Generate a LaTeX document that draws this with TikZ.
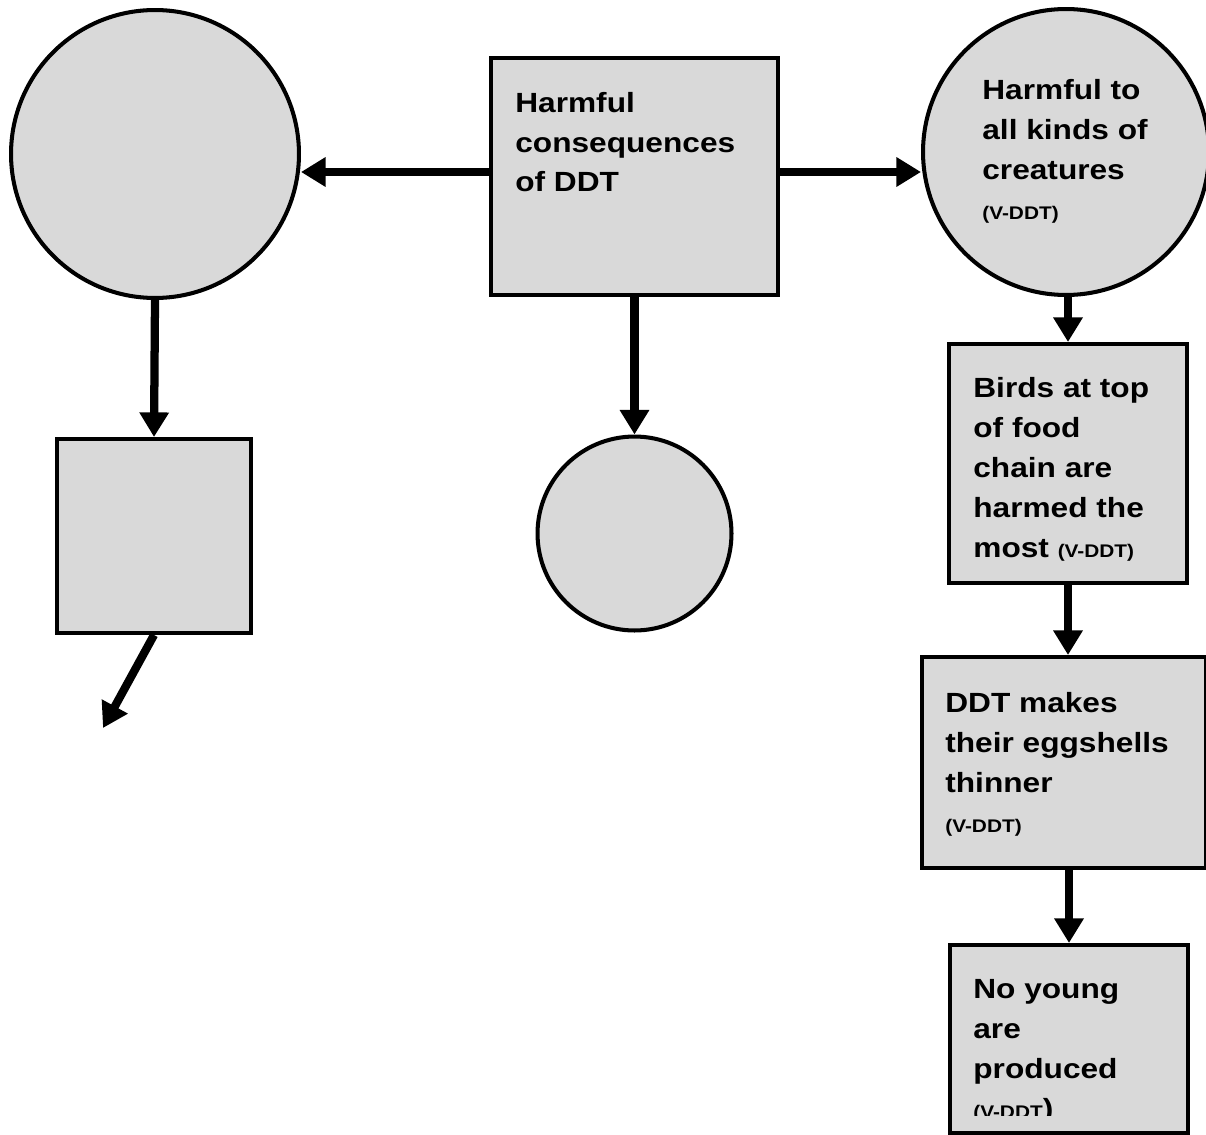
\documentclass[tikz,border=0pt]{standalone}
\usepackage{fontspec}
\setmainfont{Liberation Sans}
\newfontfamily\ddtfont[FakeStretch=1.14]{Liberation Sans}
\usepackage{tikz}
\usetikzlibrary{arrows.meta, positioning, calc}
\definecolor{boxgray}{RGB}{217,217,217}
\newcommand{\vddt}{{\fontsize{10.4}{22.7}\selectfont (V-DDT)}}

\begin{document}
\begin{tikzpicture}[x=0.02cm, y=-0.02cm,
    card/.style={rectangle, draw=black, line width=2.3pt, fill=boxgray, inner sep=0pt},
    blob/.style={circle, draw=black, line width=2.3pt, fill=boxgray, inner sep=0pt, minimum size=#1},
    arr/.style={line width=4.7pt, -{Triangle[length=14pt, width=16pt]}},
    txt/.style={anchor=base west, align=left, inner sep=0pt,
                font=\ddtfont\bfseries\fontsize{15.8}{22.7}\selectfont}
]
    \useasboundingbox (0,0) rectangle (1206,1135);

    % shapes
    \node[card, minimum width=5.74cm, minimum height=4.74cm] (main) at (634.5,176.5) {};
    \node[blob=5.76cm] (lcirc) at (155,154) {};
    \node[blob=5.72cm] (rcirc) at (1066,152) {};
    \node[card, minimum width=3.88cm, minimum height=3.88cm] (lbox) at (154,536) {};
    \node[blob=3.88cm] (scirc) at (634.5,533.5) {};
    \node[card, minimum width=4.76cm, minimum height=4.78cm] (birds) at (1068,463.5) {};
    \node[card, minimum width=5.68cm, minimum height=4.22cm] (thin) at (1064,762.5) {};
    \node[card, minimum width=4.76cm, minimum height=3.76cm] (young) at (1069,1039) {};
    \coordinate (lend) at (103,728);

    % texts (anchored on the last line)
    \node[txt] (mainT) at (515,192) {Harmful\\consequences\\of DDT};
    \node[txt] (rcircT) at (982,219) {Harmful to\\all kinds of\\creatures\\\vddt};
    \node[txt] (birdsT) at (973,557) {Birds at top\\of food\\chain are\\harmed the\\most \vddt};
    \node[txt] (thinT) at (945,832) {DDT makes\\their eggshells\\thinner\\\vddt};
    \begin{scope}
        \clip (young.north west) rectangle (young.east |- 0,1115);
        \node[txt] (youngT) at (973,1118) {No young\\are\\produced\\{\fontsize{10.4}{22.7}\selectfont (V-DDT})};
    \end{scope}

    % connectors
    \draw[arr] (main.west |- 0,172) -- (lcirc.east |- 0,172);
    \draw[arr] (main.east |- 0,172) -- (rcirc.west |- 0,172);
    \draw[arr] (lcirc.south) -- (lbox.north);
    \draw[arr] (main.south) -- (scirc.north);
    \draw[arr] (lbox.south) -- (lend);
    \draw[arr] (birds.north |- rcirc.south) -- (birds.north);
    \draw[arr] (birds.south) -- (birds.south |- thin.north);
    \draw[arr] (young.north |- thin.south) -- (young.north);
\end{tikzpicture}
\end{document}
